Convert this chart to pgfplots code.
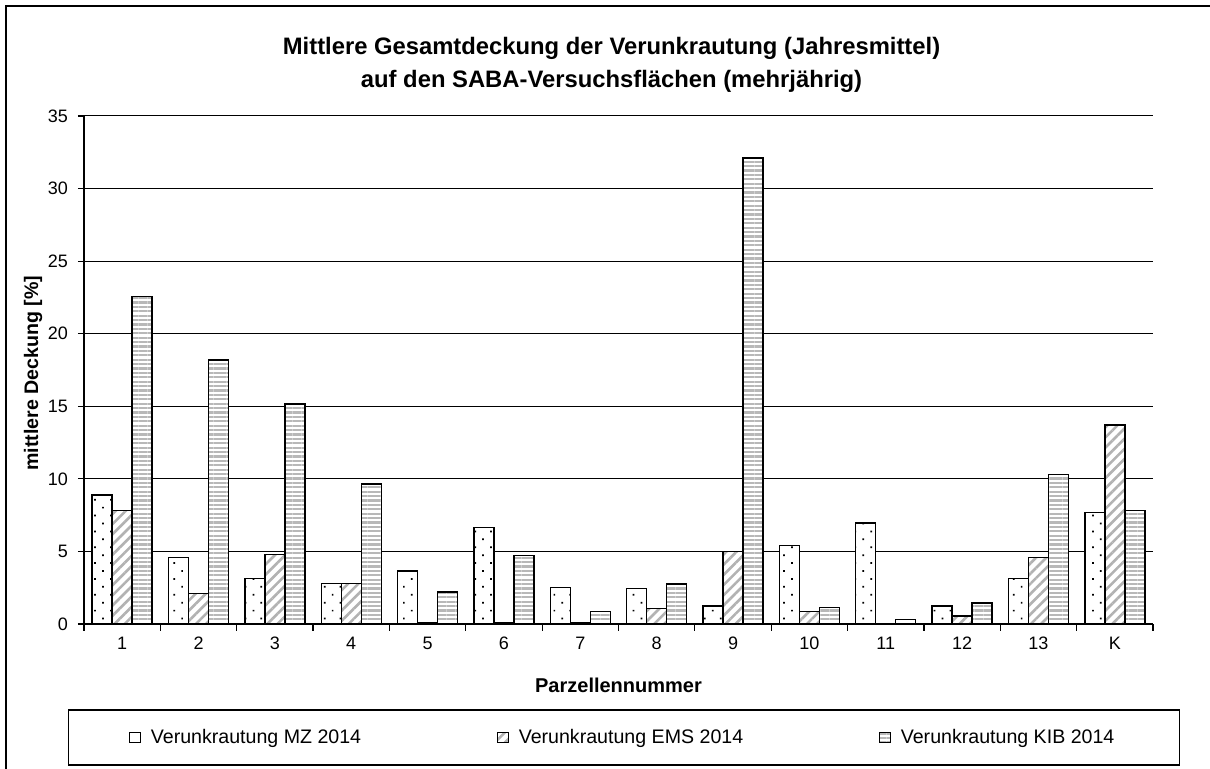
\documentclass[border=0pt]{standalone}
\usepackage{fontspec}
\setmainfont{Liberation Sans}
\usepackage{pgfplots}
\pgfplotsset{compat=1.18}
\usetikzlibrary{patterns.meta}

\pgfplotstableread{
x MZ EMS KIB
0 8.9 7.8 22.55
1 4.6 2.1 18.2
2 3.15 4.8 15.15
3 2.8 2.8 9.65
4 3.65 0.1 2.2
5 6.65 0.1 4.7
6 2.5 0.1 0.85
7 2.45 1.05 2.75
8 1.25 5.0 32.1
9 5.4 0.85 1.15
10 6.95 0 0.3
11 1.25 0.55 1.45
12 3.15 4.6 10.3
13 7.7 13.7 7.8
}\datatable

\begin{document}
\begin{tikzpicture}
\useasboundingbox (0,0) rectangle (605pt,384.5pt);
\draw[line width=0.8pt] (3pt,-5pt) rectangle (612pt,381.5pt);
\begin{axis}[
  at={(42pt,72.5pt)}, anchor=south west,
  scale only axis,
  width=534.5pt, height=254pt,
  ybar, bar width=10pt,
  xmin=-0.5, xmax=13.5,
  ymin=0, ymax=35,
  ytick={0,5,...,35},
  xtick={0,...,13},
  xticklabels={1,2,3,4,5,6,7,8,9,10,11,12,13,K},
  minor xtick={-0.5,0.5,...,13.5},
  major x tick style={draw=none},
  minor x tick style={black, line width=0.6pt},
  minor tick length=3.5pt,
  major tick length=3pt,
  y tick style={black, line width=0.6pt},
  tick align=outside,
  axis x line*=bottom, axis y line*=left,
  axis line style={black, line width=0.7pt},
  ymajorgrids,
  major grid style={black, line width=0.5pt},
  /pgf/number format/assume math mode=true,
  tick label style={font=\fontsize{9}{10}\selectfont},
  yticklabel style={xshift=-1.5pt},
  title={Mittlere Gesamtdeckung der Verunkrautung (Jahresmittel)\\auf den SABA-Versuchsflächen (mehrjährig)},
  title style={at={(axis description cs:0.4935,1)}, anchor=center, yshift=19.75pt,
    align=center, font=\bfseries\fontsize{11.9}{16.5}\selectfont},
  xlabel={Parzellennummer},
  xlabel style={at={(axis description cs:0.5,0)}, anchor=center, yshift=-30.5pt,
    font=\bfseries\fontsize{10}{12}\selectfont},
  ylabel={mittlere Deckung [\%]},
  ylabel style={at={(axis description cs:-0.0477,0.494)}, anchor=center,
    font=\bfseries\fontsize{9.8}{12}\selectfont},
  legend columns=3,
  legend image code/.code={\draw[#1, line width=0.6pt] (0pt,-2.6pt) rectangle (5.2pt,2.6pt);},
  legend style={at={(axis description cs:0.505,-0.2234)}, anchor=center,
    draw=black, line width=0.7pt,
    font=\fontsize{9.8}{11}\selectfont,
    inner xsep=30.5pt, inner ysep=7.5pt,
    /tikz/every odd column/.append style={column sep=3pt},
    /tikz/every even column/.append style={column sep=66pt},
    cells={anchor=west}},
]
\addplot[bar shift=-10pt, draw=black, line width=0.7pt, fill=white,
  postaction={pattern={Dots[radius=0.6pt, distance=5.6pt, angle=45]}, pattern color=black}]
  table[x=x, y=MZ] {\datatable};
\addplot[bar shift=0pt, draw=black, line width=0.7pt, fill=white,
  postaction={pattern={Lines[angle=45, distance=3.6pt, line width=1.3pt]}, pattern color=black!30}]
  table[x=x, y=EMS] {\datatable};
\addplot[bar shift=10pt, draw=black, line width=0.7pt, fill=white,
  postaction={pattern={Lines[angle=0, distance=2.2pt, line width=1.1pt]}, pattern color=black!28}]
  table[x=x, y=KIB] {\datatable};
\legend{Verunkrautung MZ 2014, Verunkrautung EMS 2014, Verunkrautung KIB 2014}
\end{axis}
\end{tikzpicture}
\end{document}
